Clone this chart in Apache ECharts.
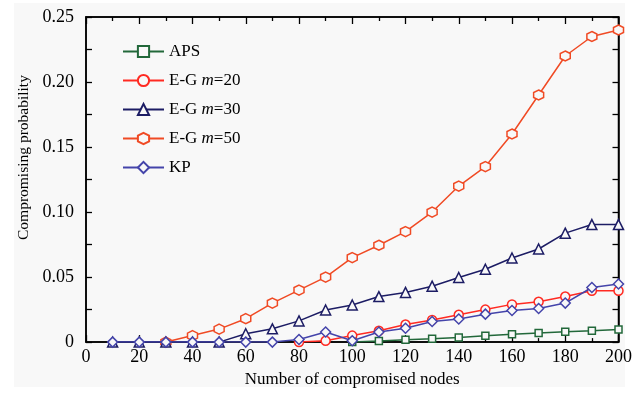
<!DOCTYPE html>
<html>
<head>
<meta charset="utf-8">
<script src="https://cdn.jsdelivr.net/npm/echarts@6/dist/echarts.min.js"></script>
<style>html,body{margin:0;padding:0;background:#fff}#c{width:635px;height:393px}</style>
</head>
<body>
<div id="c"></div>
<script>
const xValues = [10,20,30,40,50,60,70,80,90,100,110,120,130,140,150,160,170,180,190,200];
const aps   = [null,null,null,null,null,null,null,null,null,0,0.0008,0.0018,0.0025,0.0035,0.0048,0.006,0.007,0.008,0.0088,0.0097];
const eg20  = [null,null,null,null,null,null,null,0,0.001,0.005,0.0087,0.0135,0.017,0.021,0.025,0.029,0.031,0.035,0.0395,0.0395];
const eg30  = [0,0,0,0,0,0.0064,0.0102,0.0163,0.0247,0.0285,0.035,0.0382,0.043,0.0497,0.056,0.0647,0.0716,0.0838,0.0904,0.0904];
const eg50  = [null,null,0,0.005,0.01,0.018,0.03,0.04,0.05,0.065,0.0745,0.085,0.1,0.12,0.135,0.16,0.19,0.22,0.235,0.24];
const kp    = [0,0,0,0,0,0,0,0.002,0.0078,0.001,0.0078,0.0107,0.0158,0.0178,0.0215,0.0243,0.0258,0.030,0.042,0.0447];
const seriesNames = ['APS','E-G m=20','E-G m=30','E-G m=50','KP'];
const xTicks = ['0','20','40','60','80','100','120','140','160','180','200'];
const yTicks = ['0','0.05','0.10','0.15','0.20','0.25'];

const FONT = 'Liberation Serif';
const HEX = 'path://M0,-10 L8.66,-5 L8.66,5 L0,10 L-8.66,5 L-8.66,-5 Z';

function pairs(arr){ return xValues.map((x,i)=> arr[i]==null ? null : [x, arr[i]]).filter(p=>p); }

function mk(name, data, color, symbol, size, z){
  return {
    name: name, type: 'line', data: pairs(data), z: z,
    symbol: symbol, symbolSize: size, showSymbol: true,
    lineStyle: {color: color, width: 1.5},
    itemStyle: {color: '#f8f8f8', borderColor: color, borderWidth: 1.5},
    emphasis: {disabled: true}, animation: false
  };
}

const tickStyle = {color: '#000', width: 1.3};
function axisBase(extra){
  return Object.assign({
    type: 'value',
    axisLine: {show: true, onZero: false, lineStyle: {color: '#000', width: 1.5}},
    splitLine: {show: false},
    minorSplitLine: {show: false}
  }, extra);
}

const chart = echarts.init(document.getElementById('c'), null, {renderer: 'canvas'});
chart.setOption({
  backgroundColor: '#ffffff',
  animation: false,
  graphic: [{type: 'rect', shape: {x: 14, y: 3, width: 611, height: 384}, style: {fill: '#f8f8f8'}, z: -10, silent: true}],
  grid: {left: 86, right: 16, top: 17, bottom: 49, containLabel: false, show: true, borderColor: '#000', borderWidth: 1.5, backgroundColor: 'transparent'},
  legend: {
    orient: 'vertical', left: 117, top: 38,
    itemWidth: 41, itemHeight: 14, itemGap: 12,
    data: seriesNames,
    textStyle: {fontFamily: FONT, fontSize: 17, color: '#000', rich: {i: {fontFamily: FONT, fontSize: 17, fontStyle: 'italic', color: '#000'}}},
    formatter: function(n){ return n.replace('m=', '{i|m}='); }
  },
  xAxis: [
    axisBase({
      position: 'bottom', min: 0, max: 200, interval: 20,
      axisTick: {show: true, inside: true, length: 7, lineStyle: tickStyle},
      minorTick: {show: true, splitNumber: 2, length: 4, lineStyle: tickStyle},
      axisLabel: {fontFamily: FONT, fontSize: 18, color: '#000', margin: 6,
        formatter: function(v){ return xTicks[Math.round(v/20)]; }},
      name: 'Number of compromised nodes', nameLocation: 'middle', nameGap: 28,
      nameTextStyle: {fontFamily: FONT, fontSize: 17, color: '#000'}
    }),
    axisBase({
      position: 'top', min: 0, max: 200, interval: 20,
      axisTick: {show: true, inside: true, length: 7, lineStyle: tickStyle},
      minorTick: {show: true, splitNumber: 2, length: 4, lineStyle: tickStyle},
      axisLabel: {show: false}
    })
  ],
  yAxis: [
    axisBase({
      position: 'left', min: 0, max: 0.25, interval: 0.05,
      axisTick: {show: true, inside: true, length: 6, lineStyle: tickStyle},
      minorTick: {show: true, splitNumber: 2, length: 6, lineStyle: tickStyle},
      axisLabel: {fontFamily: FONT, fontSize: 18, color: '#000', margin: 12,
        formatter: function(v){ return yTicks[Math.round(v/0.05)]; }},
      name: 'Compromising probability', nameLocation: 'middle', nameGap: 52,
      nameTextStyle: {fontFamily: FONT, fontSize: 15.5, color: '#000', padding: [0,0,0,44]}
    }),
    axisBase({
      position: 'right', min: 0, max: 0.25, interval: 0.05,
      axisTick: {show: true, inside: true, length: 6, lineStyle: tickStyle},
      minorTick: {show: true, splitNumber: 2, length: 6, lineStyle: tickStyle},
      axisLabel: {show: false}
    })
  ],
  series: [
    mk('E-G m=50', eg50, '#f04a24', HEX, 10, 2),
    mk('E-G m=20', eg20, '#ff2a22', 'circle', 9, 3),
    mk('E-G m=30', eg30, '#1c1c64', 'triangle', 10, 4),
    mk('APS', aps, '#22683a', 'rect', 7, 5),
    mk('KP', kp, '#4444aa', 'diamond', 10, 6)
  ]
});
</script>
</body>
</html>
